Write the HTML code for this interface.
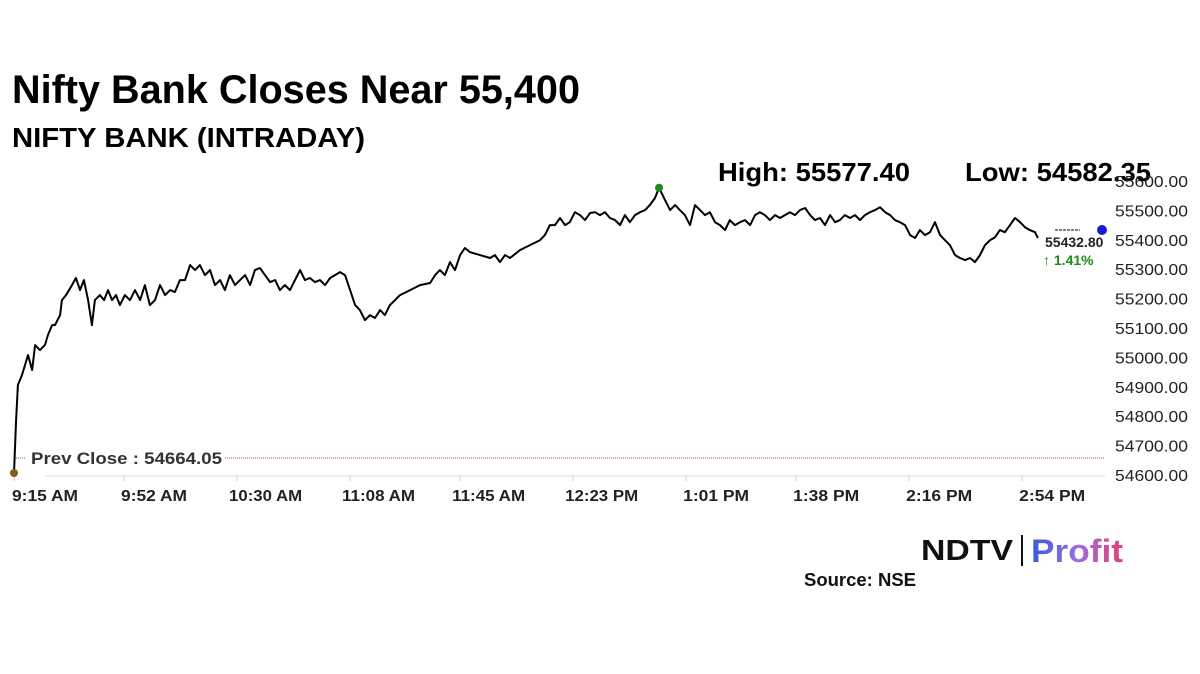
<!DOCTYPE html>
<html><head><meta charset="utf-8"><style>
body{margin:0;background:#fff;width:1200px;height:674px;overflow:hidden;font-family:"Liberation Sans",sans-serif}
svg{position:absolute;left:0;top:0}
</style></head><body>
<svg width="1200" height="674">
<defs><linearGradient id="pg" x1="0" x2="1"><stop offset="0" stop-color="#3a5bd8"/><stop offset="0.5" stop-color="#9a6ee0"/><stop offset="1" stop-color="#e0407a"/></linearGradient></defs>
<text x="12" y="103" font-size="40" font-weight="bold" textLength="568" lengthAdjust="spacingAndGlyphs" fill="#000">Nifty Bank Closes Near 55,400</text>
<text x="12" y="147" font-size="28" font-weight="bold" textLength="353" lengthAdjust="spacingAndGlyphs" fill="#000">NIFTY BANK (INTRADAY)</text>
<text x="718" y="181" font-size="26" font-weight="bold" textLength="192" lengthAdjust="spacingAndGlyphs" fill="#000">High: 55577.40</text>
<text x="965" y="181" font-size="26" font-weight="bold" textLength="186" lengthAdjust="spacingAndGlyphs" fill="#000">Low: 54582.35</text>
<g id="yax"></g>
<g id="xax"></g>
<line x1="45" y1="476" x2="1105" y2="476" stroke="#ddd" stroke-width="1"/>
<line x1="225" y1="458" x2="1105" y2="458" stroke="#a0522d" stroke-width="1" stroke-dasharray="1,1"/>
<line x1="14" y1="458" x2="25" y2="458" stroke="#a0522d" stroke-dasharray="1,1"/>
<text x="31" y="464" font-size="17" font-weight="bold" textLength="191" lengthAdjust="spacingAndGlyphs" fill="#333">Prev Close : 54664.05</text>
<path id="line" fill="none" stroke="#000" stroke-width="2" stroke-linejoin="round"/>
<line x1="1055" y1="230" x2="1080" y2="230" stroke="#555" stroke-width="1.5" stroke-dasharray="3,1"/>
<circle cx="14" cy="473" r="4" fill="#8b5a1a"/>
<circle id="hi" r="4" fill="#1a8a1a"/>
<circle cx="1102" cy="230" r="5" fill="#1a1ad0"/>
<text x="1045" y="247" font-size="14" font-weight="bold" fill="#222">55432.80</text>
<text x="1043" y="265" font-size="14" font-weight="bold" fill="#1a8a1a">↑ 1.41%</text>
<text x="921" y="560" font-size="29" font-weight="bold" textLength="92" lengthAdjust="spacingAndGlyphs" fill="#111">NDTV</text>
<line x1="1022" y1="535" x2="1022" y2="566" stroke="#111" stroke-width="2"/>
<text x="1031" y="562" font-size="32" font-weight="bold" textLength="92" lengthAdjust="spacingAndGlyphs" fill="url(#pg)">Profit</text>
<text x="804" y="586" font-size="18" font-weight="bold" textLength="112" lengthAdjust="spacingAndGlyphs" fill="#111">Source: NSE</text>
</svg>
<script>
const yTicks=[54600,54700,54800,54900,55000,55100,55200,55300,55400,55500,55600];
const xTickLabels=["9:15 AM","9:52 AM","10:30 AM","11:08 AM","11:45 AM","12:23 PM","1:01 PM","1:38 PM","2:16 PM","2:54 PM"];
const xTickMinutes=[0,37,75,113,150,188,226,263,301,339];
const times=[0,0.7,1.3,2.7,4.7,6.1,7.1,8.7,10.4,11.4,12.8,13.8,15.5,16.1,17.5,19.5,20.8,22.2,23.5,24.9,26.2,27.2,28.9,
30.3,31.6,33.0,34.3,35.6,37.3,39.0,40.7,42.4,44.0,45.7,47.4,49.1,50.8,52.5,54.1,55.8,57.5,59.2,60.9,62.5,64.2,65.9,67.6,69.3,70.9,72.6,74.3,76.0,77.7,79.4,81.0,82.7,84.4,86.1,87.8,89.4,91.1,92.8,94.5,96.2,97.8,99.5,101.2,102.9,104.6,106.3,
109.6,111.3,113.0,114.7,116.3,118.0,119.7,121.4,123.1,124.7,126.4,128.1,129.8,133.2,136.5,139.9,141.6,143.2,144.9,146.6,148.3,150.0,151.6,153.3,156.7,160.1,161.7,163.4,165.1,166.8,170.1,173.5,176.9,178.5,180.2,181.9,183.6,185.3,186.9,188.6,190.3,192.0,193.7,195.4,197.0,198.7,200.4,202.1,203.8,205.4,207.1,208.8,210.5,212.2,213.8,215.5,216.9,
218.9,220.6,222.3,223.9,225.6,227.3,229.0,230.7,232.3,234.0,235.7,237.4,239.1,240.7,242.4,244.1,245.8,247.5,249.2,250.8,252.5,254.2,255.9,257.6,259.2,260.9,262.6,264.3,266.0,267.7,269.3,271.0,272.7,274.4,276.1,277.7,279.4,281.1,282.8,284.5,286.1,287.8,289.5,291.2,292.9,294.6,296.2,297.9,299.6,301.3,303.0,304.6,306.3,308.0,309.7,311.4,313.0,314.7,316.4,318.1,319.8,321.5,323.1,324.8,326.5,328.2,329.9,331.5,333.2,334.9,336.6,338.3,339.9,341.6,343.3,344.3];
const prices=[54607,54787,54906,54940,55008,54957,55042,55025,55042,55076,55110,55110,55144,55195,55212,55246,55270,55229,55263,55195,55110,55195,55212,
55195,55229,55195,55212,55178,55212,55195,55229,55195,55246,55178,55195,55246,55212,55229,55222,55263,55263,55314,55297,55314,55280,55297,55246,55263,55229,55280,55246,55263,55280,55246,55297,55304,55280,55256,55263,55229,55246,55229,55263,55297,55263,55270,55256,55263,55246,55270,
55290,55280,55229,55178,55161,55127,55144,55134,55161,55144,55178,55195,55212,55229,55246,55253,55280,55297,55280,55324,55297,55348,55372,55358,55348,55338,55348,55324,55348,55338,55365,55382,55399,55416,55450,55450,55474,55450,55460,55494,55484,55467,55491,55494,55484,55494,55474,55467,55450,55484,55460,55484,55494,55501,55518,55542,55577,
55535,55501,55518,55501,55484,55450,55518,55501,55484,55494,55460,55450,55433,55467,55450,55460,55467,55450,55484,55494,55484,55467,55484,55474,55484,55494,55484,55501,55508,55484,55467,55474,55450,55484,55460,55467,55484,55474,55484,55467,55484,55494,55501,55511,55494,55484,55467,55460,55450,55416,55406,55433,55416,55426,55460,55416,55399,55382,55348,55338,55331,55338,55324,55348,55382,55399,55409,55433,55426,55450,55474,55460,55443,55433,55426,55406];
const X=m=>14+m*2.974;
const Y=v=>475-(v-54600)*0.294;
const NS="http://www.w3.org/2000/svg";
const yax=document.getElementById('yax');
yTicks.forEach(t=>{const e=document.createElementNS(NS,'text');


e.setAttribute('x',1115);e.setAttribute('y',Y(t)+6);e.setAttribute('font-size','16');e.setAttribute('textLength','73');e.setAttribute('lengthAdjust','spacingAndGlyphs');e.setAttribute('fill','#222');e.textContent=t.toFixed(2);yax.appendChild(e);});
const xax=document.getElementById('xax');
xTickLabels.forEach((l,i)=>{const e=document.createElementNS(NS,'text');


const x=X(xTickMinutes[i]);
e.setAttribute('x',i==0?x-2:x+(l.length>7?-8:-3));e.setAttribute('y',501);e.setAttribute('font-size','16');e.setAttribute('font-weight','bold');e.setAttribute('textLength',l.length>7?73:66);e.setAttribute('lengthAdjust','spacingAndGlyphs');e.setAttribute('fill','#222');e.textContent=l;xax.appendChild(e);
const tk=document.createElementNS(NS,'line');


tk.setAttribute('x1',x);tk.setAttribute('x2',x);tk.setAttribute('y1',476);tk.setAttribute('y2',481);tk.setAttribute('stroke','#ccc');xax.appendChild(tk);});
const n=Math.min(times.length,prices.length);let d='';let hi=0;
for(let i=0;i<n;i++){d+=(i?'L':'M')+X(times[i]).toFixed(1)+','+Y(prices[i]).toFixed(1);if(prices[i]>prices[hi])hi=i;}
document.getElementById('line').setAttribute('d',d);
const h=document.getElementById('hi');h.setAttribute('cx',X(times[hi]));h.setAttribute('cy',Y(prices[hi]));
</script>
</body></html>
